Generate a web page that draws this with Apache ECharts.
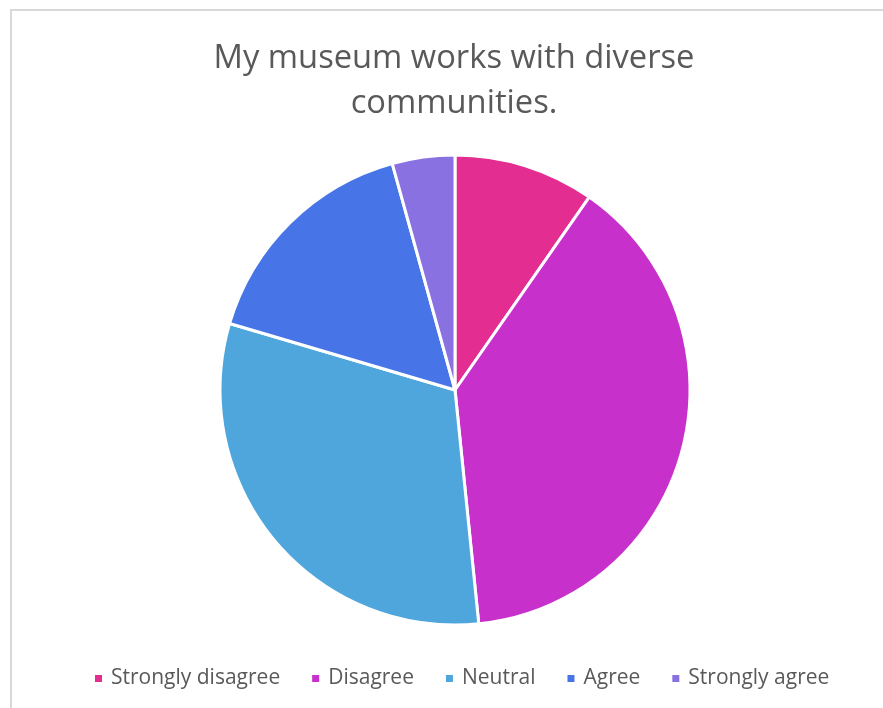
<!DOCTYPE html>
<html>
<head>
<meta charset="utf-8">
<script src="https://cdn.jsdelivr.net/npm/echarts@6/dist/echarts.min.js"></script>
<style>
  html, body { margin: 0; padding: 0; background: #ffffff; }
  #chart { width: 883px; height: 708px; }
</style>
</head>
<body>
<div id="chart"></div>
<script>
const categories = ['Strongly disagree', 'Disagree', 'Neutral', 'Agree', 'Strongly agree'];
const counts = [9, 36, 29, 15, 4];
const colors = ['#E32D91', '#C830CC', '#4EA6DC', '#4775E7', '#8971E1'];
const titleText = 'My museum works with diverse\ncommunities.';

const chart = echarts.init(document.getElementById('chart'), null, { renderer: 'canvas' });

chart.setOption({
  animation: false,
  backgroundColor: '#ffffff',
  color: colors,
  graphic: [{
    type: 'rect',
    shape: { x: 11, y: 10, width: 900, height: 720 },
    style: { fill: 'none', stroke: '#d9d9d9', lineWidth: 2 },
    silent: true
  }],
  title: {
    text: titleText,
    left: 449,
    textAlign: 'center',
    top: 31,
    textStyle: {
      fontFamily: 'Open Sans',
      fontWeight: 'normal',
      fontSize: 32.7,
      lineHeight: 45,
      color: '#595959'
    }
  },
  legend: {
    data: categories,
    bottom: 19,
    left: 93,
    padding: 0,
    icon: 'rect',
    itemWidth: 9,
    itemHeight: 9,
    itemGap: 30,
    textStyle: {
      fontFamily: 'Open Sans',
      fontSize: 21,
      color: '#595959',
      padding: [0, 0, 0, 3]
    }
  },
  series: [{
    type: 'pie',
    center: [455, 390],
    radius: [0, 235],
    startAngle: 90,
    clockwise: true,
    label: { show: false },
    labelLine: { show: false },
    itemStyle: { borderColor: '#ffffff', borderWidth: 3 },
    emphasis: { disabled: true },
    data: categories.map((name, i) => ({ name, value: counts[i] }))
  }]
});
</script>
</body>
</html>
